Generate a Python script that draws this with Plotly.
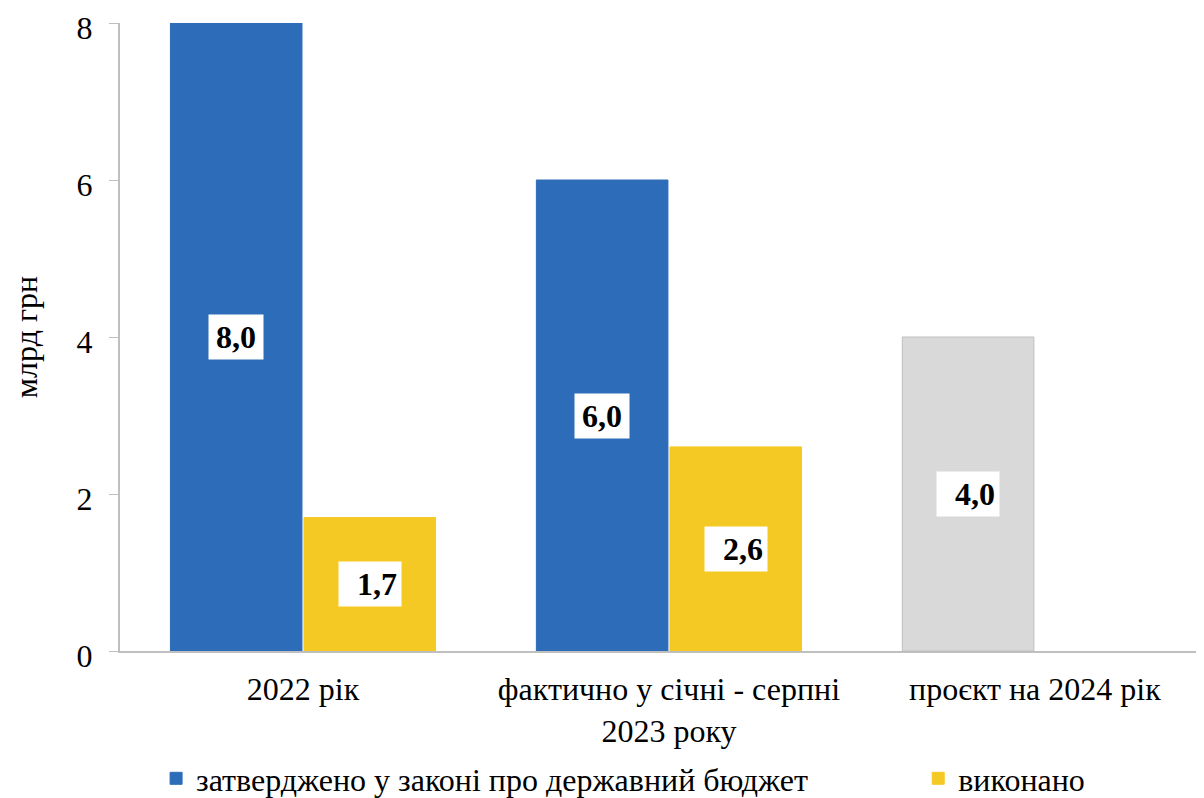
import plotly.graph_objects as go

categories = ["2022 рік", "фактично у січні - серпні<br>2023 року", "проєкт на 2024 рік"]
approved = [8.0, 6.0, 4.0]
executed = [1.7, 2.6, None]
approved_labels = ["8,0", "6,0", "4,0"]
executed_labels = ["1,7", "2,6", None]
y_ticks = [0, 2, 4, 6, 8]

BLUE = "#2D6CB9"
YELLOW = "#F5C923"
GRAY = "#D9D9D9"
FONT = "Liberation Serif"
FS = 32

fig = go.Figure()
fig.add_trace(go.Bar(
    x=categories, y=approved, name="затверджено у законі про державний бюджет",
    marker=dict(color=[BLUE, BLUE, GRAY], line=dict(color=[BLUE, BLUE, "#BFBFBF"], width=1)),
    legend="legend",
))
fig.add_trace(go.Bar(
    x=categories, y=executed, name="виконано",
    marker=dict(color=YELLOW, line=dict(color=YELLOW, width=1)),
    legend="legend2",
))

def label(x, y, txt, shift, wide):
    return dict(x=x, y=y, text="<b>" + txt + "</b>", xshift=shift, showarrow=False,
                bgcolor="white", borderpad=4, width=54 if wide else 46,
                align="right" if wide else "center",
                font=dict(family=FONT, size=FS, color="black"))

annotations = []
for i, c in enumerate(categories):
    annotations.append(label(c, approved[i] / 2, approved_labels[i], -67, i == 2))
    if executed[i] is not None:
        annotations.append(label(c, executed[i] / 2, executed_labels[i], 67, True))

legend_common = dict(orientation="h", xref="container", yref="container",
                     xanchor="left", yanchor="bottom", y=0.0,
                     font=dict(family=FONT, size=FS, color="black"),
                     bgcolor="rgba(0,0,0,0)", itemwidth=30)

fig.update_layout(
    width=1204, height=798,
    margin=dict(l=112, r=0, t=15, b=155, autoexpand=False),
    paper_bgcolor="white", plot_bgcolor="white",
    font=dict(family=FONT, size=FS, color="black"),
    barmode="group", bargap=0.27, bargroupgap=0.015,
    annotations=annotations,
    xaxis=dict(range=[-0.5, 2.484], showline=True, linecolor="#BFBFBF", linewidth=2,
               ticks="", ticklabelstandoff=9, tickfont=dict(family=FONT, size=FS, color="black"),
               showgrid=False, zeroline=False),
    yaxis=dict(range=[0, 8], tickvals=y_ticks, showline=True, linecolor="#BFBFBF", linewidth=2,
               ticks="outside", ticklen=9, tickcolor="#BFBFBF", ticklabelstandoff=10,
               ticklabelshift=5, ticklabeloverflow="allow",
               tickfont=dict(family=FONT, size=FS, color="black"),
               showgrid=False, zeroline=False,
               title=dict(text="млрд грн", font=dict(family=FONT, size=FS, color="black"), standoff=34)),
    legend=dict(x=0.123, **legend_common),
    legend2=dict(x=0.756, **legend_common),
    showlegend=True,
)

fig.write_html("out.html")
